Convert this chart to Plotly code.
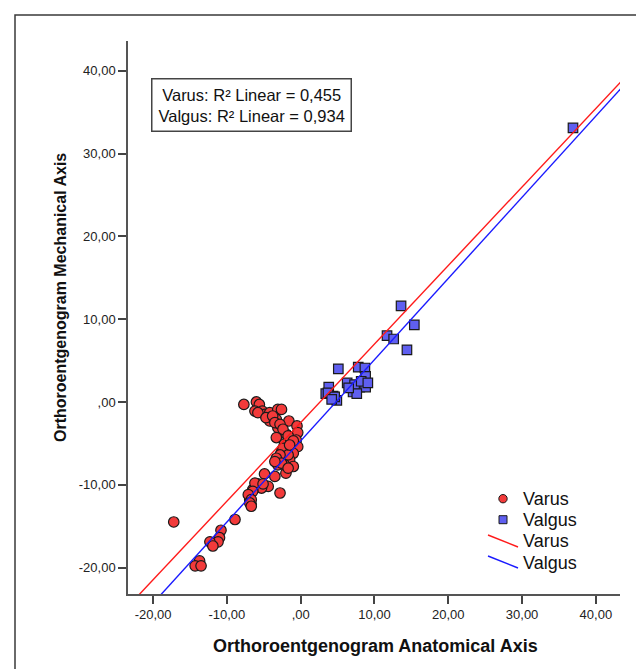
import plotly.graph_objects as go

# ---------------- data ----------------
varus_x = [-7.7, -6.0, -5.6, -6.2, -5.2, -4.9, -4.2, -3.1, -2.6, -3.3, -1.6, -4.2, -3.1, -0.5,
           -1.95, -0.4, -3.3, -0.6, -2.2, -0.4, -2.6, -1.0, -2.6, -1.5, -3.1, -2.0, -3.5, -4.9,
           -5.8, -4.4, -2.8, -5.3, -6.5, -6.9, -6.7,
           -5.8, -4.7, -3.8, -3.5, -2.8, -2.4, -1.7, -1.0, -2.4, -1.7, -2.2, -1.0, -1.5, -2.8,
           -3.3, -2.6, -3.5, -1.7, -6.2, -5.1, -6.5, -7.1, -6.7, -6.9, -6.7,
           -17.2, -8.9, -10.8, -11.0, -11.2, -12.3, -11.9, -13.7, -14.3, -13.5]
varus_y = [-0.3, 0.0, -0.3, -1.1, -1.1, -1.5, -1.3, -0.9, -0.9, -2.1, -2.3, -2.3, -3.1, -2.9,
           -3.9, -3.7, -4.3, -4.6, -5.1, -5.4, -6.0, -6.2, -6.8, -7.0, -7.6, -8.6, -9.0, -8.7,
           -9.9, -10.2, -11.0, -10.4, -10.6, -11.8, -12.4,
           -1.3, -1.9, -1.7, -2.5, -2.7, -3.3, -4.1, -4.7, -5.6, -6.4, -7.6, -7.8, -5.2, -6.4,
           -6.8, -7.4, -7.2, -8.0, -9.8, -9.9, -10.8, -11.2, -11.8, -12.2, -12.6,
           -14.5, -14.2, -15.5, -16.4, -16.9, -16.9, -17.4, -19.2, -19.8, -19.8]

valgus_x = [36.9, 13.6, 15.4, 11.7, 12.6, 14.4, 5.1, 7.8, 8.7, 8.8, 6.3, 3.8, 3.4, 7.1, 8.0,
            7.3, 8.8, 8.2, 4.4, 7.6, 9.1, 6.5, 4.9, 3.7, 4.6, 4.2]
valgus_y = [33.1, 11.6, 9.3, 8.0, 7.6, 6.3, 4.0, 4.2, 4.1, 3.1, 2.3, 1.8, 1.0, 1.2, 1.8,
            2.1, 1.8, 2.5, 0.7, 1.0, 2.3, 1.7, 0.2, 1.1, 0.6, 0.3]

varus_fit = [0.949, -2.5]    # slope, intercept
valgus_fit = [0.981, -4.7]   # slope, intercept
r2_varus = "0,455"
r2_valgus = "0,934"

tick_vals = [-20, -10, 0, 10, 20, 30, 40]
tick_labels = ["-20,00", "-10,00", ",00", "10,00", "20,00", "30,00", "40,00"]

x_title = "Orthoroentgenogram Anatomical Axis"
y_title = "Orthoroentgenogram Mechanical Axis"
series_names = ["Varus", "Valgus"]

# ---------------- layout geometry ----------------
W, H = 644, 669
L, R, T, B = 120, 612, 33, 586
X_RANGE = [-23.4, 43.27]
Y_RANGE = [-23.2, 43.6]

RED_FILL = "#f23a3a"
BLUE_FILL = "#5f5ff0"
FONT = "Liberation Sans, Arial, sans-serif"


def px(x):
    return (x - L) / (R - L)


def py(y):
    return (B - y) / (B - T)


fig = go.Figure()

fig.add_trace(go.Scatter(
    x=varus_x, y=varus_y, mode="markers", name=series_names[0],
    marker=dict(symbol="circle", size=10.5, color=RED_FILL,
                line=dict(color="#1a1a1a", width=1.2)),
    showlegend=False, cliponaxis=False))
fig.add_trace(go.Scatter(
    x=valgus_x, y=valgus_y, mode="markers", name=series_names[1],
    marker=dict(symbol="square", size=9.5, color=BLUE_FILL,
                line=dict(color="#1a1a1a", width=1.2)),
    showlegend=False, cliponaxis=False))

for fit, col, nm in [(varus_fit, "#ff1a1a", series_names[0]),
                     (valgus_fit, "#1a1aff", series_names[1])]:
    xs = [X_RANGE[0] - 5, X_RANGE[1] + 5]
    ys = [fit[0] * v + fit[1] for v in xs]
    fig.add_trace(go.Scatter(x=xs, y=ys, mode="lines", name=nm,
                             line=dict(color=col, width=1.4), showlegend=False))

axis_common = dict(
    showgrid=False, zeroline=False, showline=True, linecolor="#555555", linewidth=1.5,
    ticks="outside", ticklen=8, tickwidth=1.5, tickcolor="#444444",
    tickvals=tick_vals, ticktext=tick_labels,
    tickfont=dict(family=FONT, size=13, color="#222222"),
)

fig.update_xaxes(range=X_RANGE, **axis_common)
fig.update_yaxes(range=Y_RANGE, **axis_common)

shapes = []
annotations = []

# outer frame
shapes.append(dict(type="rect", xref="paper", yref="paper",
                   x0=px(7), x1=px(637), y0=py(7), y1=py(662),
                   line=dict(color="#3a3a3a", width=1.5), fillcolor="rgba(0,0,0,0)"))

# R^2 box
annotations.append(dict(
    xref="paper", yref="paper", x=px(143), y=py(70), xanchor="left", yanchor="top",
    text=f"Varus: R² Linear = {r2_varus}<br>Valgus: R² Linear = {r2_valgus}",
    showarrow=False, align="center",
    font=dict(family=FONT, size=16.5, color="#111111"),
    bordercolor="#444444", borderwidth=1.5, borderpad=6, bgcolor="white"))

# axis titles
annotations.append(dict(
    xref="paper", yref="paper", x=px(367), y=py(638), xanchor="center", yanchor="middle",
    text=f"<b>{x_title}</b>", showarrow=False,
    font=dict(family=FONT, size=18, color="#111111")))
annotations.append(dict(
    xref="paper", yref="paper", x=px(52), y=py(290), xanchor="center", yanchor="middle",
    text=f"<b>{y_title}</b>", showarrow=False, textangle=-90,
    font=dict(family=FONT, size=16, color="#111111")))

# custom legend
leg_text_x = 513
leg_rows = [490.7, 512.3, 533.3, 555]
leg_labels = [series_names[0], series_names[1], series_names[0], series_names[1]]
for yy, lab in zip(leg_rows, leg_labels):
    annotations.append(dict(
        xref="paper", yref="paper", x=px(leg_text_x), y=py(yy), xanchor="left",
        yanchor="middle", text=lab, showarrow=False,
        font=dict(family=FONT, size=18, color="#111111")))

shapes.append(dict(type="circle", xref="paper", yref="paper",
                   xsizemode="pixel", ysizemode="pixel",
                   xanchor=px(495), yanchor=py(490.7),
                   x0=-4.2, x1=4.2, y0=-4.2, y1=4.2,
                   fillcolor=RED_FILL, line=dict(color="#1a1a1a", width=1)))
shapes.append(dict(type="rect", xref="paper", yref="paper",
                   xsizemode="pixel", ysizemode="pixel",
                   xanchor=px(495), yanchor=py(511.7),
                   x0=-4, x1=4, y0=-4, y1=4,
                   fillcolor=BLUE_FILL, line=dict(color="#1a1a1a", width=1)))
shapes.append(dict(type="line", xref="paper", yref="paper",
                   x0=px(480), y0=py(527), x1=px(510), y1=py(539),
                   line=dict(color="#ff1a1a", width=1.4)))
shapes.append(dict(type="line", xref="paper", yref="paper",
                   x0=px(480), y0=py(548), x1=px(510), y1=py(560),
                   line=dict(color="#1a1aff", width=1.4)))

fig.update_layout(
    width=W, height=H,
    margin=dict(l=L, r=W - R, t=T, b=H - B, pad=0),
    paper_bgcolor="white", plot_bgcolor="white",
    shapes=shapes, annotations=annotations,
    showlegend=False,
    font=dict(family=FONT),
)

fig.write_html("out.html")
